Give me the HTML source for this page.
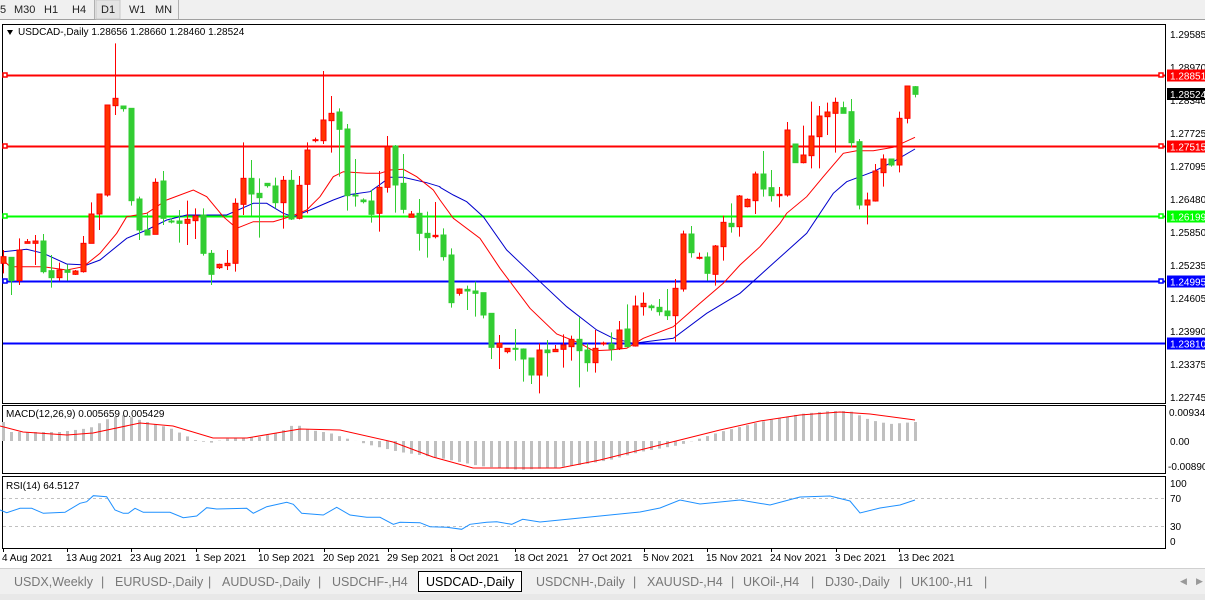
<!DOCTYPE html>
<html><head><meta charset="utf-8">
<style>
body{margin:0;width:1205px;height:600px;overflow:hidden;background:#fff;font-family:"Liberation Sans",Tahoma,sans-serif;}
svg{display:block}
</style></head><body>
<svg id="s" width="1205" height="600" xmlns="http://www.w3.org/2000/svg" font-family="Liberation Sans, sans-serif" font-size="10.5">
<rect x="0" y="0" width="1205" height="19" fill="#f0f0f0"/>
<line x1="0" y1="19.5" x2="1205" y2="19.5" stroke="#a0a0a0"/>
<g font-size="11" fill="#222">
<text x="0" y="13">5</text><text x="14" y="13">M30</text><text x="44" y="13">H1</text><text x="72" y="13">H4</text>
<line x1="94.5" y1="0" x2="94.5" y2="19" stroke="#b0b0b0"/>
<rect x="96" y="0" width="24" height="19" fill="#e4e4e4" stroke="#c8c8c8"/>
<text x="101" y="13">D1</text><text x="129" y="13">W1</text><text x="155" y="13">MN</text>
<line x1="178.5" y1="0" x2="178.5" y2="19" stroke="#b0b0b0"/>
</g>
<rect x="2.5" y="24.5" width="1163" height="379" fill="#fff" stroke="#000"/>
<rect x="2.5" y="405.5" width="1163" height="68" fill="#fff" stroke="#000"/>
<rect x="2.5" y="476.5" width="1163" height="72" fill="#fff" stroke="#000"/>
<g id="main"></g>
<g id="macd"></g>
<g id="rsi"></g>
<g font-size="10" fill="#000">
<text x="1170" y="38">1.29585</text><text x="1170" y="71">1.28970</text><text x="1170" y="104">1.28340</text>
<text x="1170" y="137">1.27725</text><text x="1170" y="170">1.27095</text><text x="1170" y="203">1.26480</text>
<text x="1170" y="236">1.25850</text><text x="1170" y="269">1.25235</text><text x="1170" y="302">1.24605</text>
<text x="1170" y="335">1.23990</text><text x="1170" y="368">1.23375</text><text x="1170" y="401">1.22745</text>
<text x="1169" y="416">0.009345</text><text x="1170" y="445">0.00</text><text x="1168" y="470">-0.00890</text>
<text x="1170" y="487">100</text><text x="1170" y="502">70</text><text x="1170" y="530">30</text><text x="1170" y="545">0</text>
</g>
<g id="hl"></g>
<g font-size="10" fill="#000">
<path d="M7 30 L13 30 L10 35Z" fill="#000"/>
<text x="18" y="35">USDCAD-,Daily  1.28656 1.28660 1.28460 1.28524</text>
<text x="6" y="417">MACD(12,26,9) 0.005659 0.005429</text>
<text x="6" y="489">RSI(14) 64.5127</text>
</g>
<g id="dates" font-size="10" fill="#000"></g>
<rect x="0" y="568" width="1205" height="32" fill="#f0f0f0"/>
<line x1="0" y1="568.5" x2="1205" y2="568.5" stroke="#d0d0d0"/>
<g font-size="12.5" fill="#777">
<text x="14" y="586">USDX,Weekly</text><text x="101" y="586">|</text>
<text x="115" y="586">EURUSD-,Daily</text><text x="208" y="586">|</text>
<text x="222" y="586">AUDUSD-,Daily</text><text x="318" y="586">|</text>
<text x="332" y="586">USDCHF-,H4</text>
<rect x="418.5" y="571.5" width="103" height="20" fill="#fff" stroke="#000"/>
<text x="426" y="586" fill="#000">USDCAD-,Daily</text>
<text x="536" y="586">USDCNH-,Daily</text><text x="633" y="586">|</text>
<text x="647" y="586">XAUUSD-,H4</text><text x="731" y="586">|</text>
<text x="743" y="586">UKOil-,H4</text><text x="811" y="586">|</text>
<text x="825" y="586">DJ30-,Daily</text><text x="899" y="586">|</text>
<text x="911" y="586">UK100-,H1</text><text x="984" y="586">|</text>
<text x="1180" y="584" font-size="9" fill="#999">◀</text><text x="1196" y="584" font-size="9" fill="#999">▶</text>
</g>
<rect x="0" y="594" width="1205" height="6" fill="#e8e8e8"/>
</svg>
<script>
var NS="http://www.w3.org/2000/svg";
function el(p,t,a){var e=document.createElementNS(NS,t);for(var k in a)e.setAttribute(k,a[k]);p.appendChild(e);return e;}
var main=document.getElementById('main'),hl=document.getElementById('hl');
var A=[["r",650,670,630,700],["g",652,722,652,765],["r",630,722,595,735],["r",605,610,597,610],["r",603,610,585,675],["g",603,695,582,700],["g",692,713,645,743],["r",690,713,668,722],["g",690,697,673,722],["r",693,703,690,705],["r",610,695,588,698],["r",522,610,487,610],["r",462,522,462,570],["r",195,465,195,470],["r",175,197,10,225],["g",198,206,198,215],["g",205,482,205,497],["g",477,570,470,600],["g",570,585,520,585],["r",427,583,415,583],["g",423,535,393,555],["g",543,546,535,550],["g",543,550,510,608],["r",538,550,482,615],["r",528,542,505,597],["g",525,640,505,647],["g",640,703,630,735],["r",673,683,671,687],["r",670,677,630,690],["r",490,670,475,695],["r",415,493,307,525],["g",415,462,360,527],["g",460,473,415,593],["g",430,437,430,443],["g",438,488,413,505],["r",421,488,408,566],["g",421,537,390,540],["r",436,535,408,538],["r",330,433,307,520],["r",299,301,293,307],["r",240,302,93,312],["r",220,242,168,338],["g",216,268,205,410],["g",267,467,252,512],["g",465,467,357,500],["g",480,485,475,490],["g",483,523,450,548],["r",442,520,393,575],["r",320,442,288,458],["g",318,435,315,518],["g",430,508,342,520],["r",522,532,513,532],["g",520,580,477,632],["g",580,593,515,653],["r",586,590,486,595]];
var B=[["g",525,590,505,602],["g",585,728,565,743],["r",687,700,685,707],["g",688,693,677,750],["g",693,700,665,770],["g",698,765,698,775],["g",760,862,760,897],["r",850,862,825,927],["r",865,875,865,880],["g",865,868,807,902],["g",867,897,865,965],["g",894,945,894,972],["r",870,945,850,1000],["g",870,878,840,950],["r",868,875,855,875],["r",855,868,823,923],["r",838,860,827,902],["g",838,872,772,982],["g",870,908,850,935],["r",865,908,810,938],["r",849,851,845,857],["g",852,867,817,902],["r",810,865,783,870],["g",807,860,733,860],["r",738,858,707,860],["r",730,740,697,767],["g",738,743,733,752],["g",742,755,717,767],["g",753,767,687,780],["r",685,767,657,845],["r",522,687,512,695],["g",522,578,498,593],["r",592,595,578,598],["g",591,640,577,662],["r",558,643,555,677],["r",487,560,467,602],["g",490,500,430,518],["r",408,500,405,530],["r",418,440,415,442],["r",342,422,335,462],["g",342,387,273,410],["g",383,407,330,425],["r",403,407,381,442],["r",210,405,186,410],["g",252,308,252,308],["r",285,308,197,310],["r",228,287,125,325],["r",168,230,138,325],["r",156,170,128,225],["r",127,160,113,278],["g",143,160,125,160],["g",155,248,117,262],["g",245,435,237,448],["r",420,435,398,493],["r",333,423,312,425],["r",297,338,283,380],["g",297,315,297,320],["r",175,315,155,337],["r",78,175,78,190],["g",80,103,78,112]];
var C=[];
A.forEach(function(c){C.push([c[0],40+c[1]/3,40+c[2]/3,40+c[3]/3,40+c[4]/3]);});
B.forEach(function(c){C.push([c[0],60+c[1]/3,60+c[2]/3,60+c[3]/3,60+c[4]/3]);});
[[75.5,"#ff0000","1.28851"],[146.5,"#ff0000","1.27515"],[216.5,"#00ff00","1.26199"],[281.5,"#0000ff","1.24995"],[343.5,"#0000ff","1.23810"]].forEach(function(h,i){
 el(main,'line',{x1:3,y1:h[0],x2:1165,y2:h[0],stroke:h[1],'stroke-width':2});
 if(i<4){el(main,'rect',{x:3,y:h[0]-2.5,width:4,height:4,fill:'#fff',stroke:h[1],'stroke-width':1.5});
 el(main,'rect',{x:1159,y:h[0]-2.5,width:4,height:4,fill:'#fff',stroke:h[1],'stroke-width':1.5});}
 el(hl,'rect',{x:1167,y:h[0]-6,width:38,height:12,fill:h[1]});
 var t=el(hl,'text',{x:1170,y:h[0]+4,fill:'#fff','font-size':'10'});t.textContent=h[2];
});
el(hl,'rect',{x:1167,y:88,width:38,height:12,fill:'#000'});
var tt=el(hl,'text',{x:1170,y:98,fill:'#fff','font-size':'10'});tt.textContent="1.28524";
function poly(par,pts,ox,oy,col,w){var s=pts.map(function(p){return (p[0]/3+ox).toFixed(1)+","+(p[1]/3+oy).toFixed(1);}).join(" ");el(par,'polyline',{points:s,fill:'none',stroke:col,'stroke-width':w||1});}
var redA=[[10,660],[30,680],[130,680],[200,690],[250,680],[300,640],[350,580],[380,530],[440,520],[500,480],[580,450],[620,470],[670,530],[710,565],[760,545],[820,545],[870,530],[920,510],[960,470],[1000,410],[1030,395],[1100,400],[1140,400],[1170,390],[1210,388],[1250,410],[1300,450],[1320,480]];
var redB=[[0,420],[40,475],[120,535],[180,625],[270,745],[350,822],[420,850],[460,872],[510,870],[560,865],[610,835],[700,800],[780,730],[850,670],[900,615],[960,560],[1020,490],[1040,460],[1100,410],[1150,350],[1210,280],[1250,272],[1300,272],[1360,262],[1425,232]];
var bluA=[[10,635],[80,628],[130,640],[200,672],[260,675],[300,660],[380,595],[440,570],[500,540],[560,525],[680,525],[760,490],[800,490],[850,520],[880,530],[930,510],[1000,480],[1040,465],[1110,455],[1170,412],[1210,412],[1280,428],[1320,440]];
var bluB=[[0,382],[40,405],[80,425],[130,470],[200,570],[300,665],[380,740],[470,810],[520,835],[580,850],[700,835],[800,760],[900,700],[1000,610],[1100,520],[1180,400],[1220,365],[1300,335],[1360,305],[1425,267]];
function toB(pts){return pts.map(function(p){return [(p[0]/3-440)*3,(p[1]/3+40-60)*3];});}
poly(main,toB(bluA).concat(bluB),440,60,'#0000cc',1);
poly(main,toB(redA).concat(redB),440,60,'#ff0000',1);
C.forEach(function(c,i){var x=Math.round(3.3+8*i)+0.5;var col=c[0]=="r"?"#ff0000":"#32cd32";var fill=c[0]=="r"?"#ff3300":"#32cd32";
 el(main,'line',{x1:x,y1:c[3],x2:x,y2:c[4],stroke:col,'stroke-width':1});
 var h=Math.max(c[2]-c[1],1);
 el(main,'rect',{x:x-2.5,y:c[1],width:5,height:h,fill:fill,stroke:col,'stroke-width':1});
});
var macd=document.getElementById('macd');
var hp=[[5,432],[60,432],[90,428],[110,418],[125,415],[140,420],[170,428],[195,440],[210,443],[230,438],[260,437],[280,432],[295,424],[310,430],[330,433],[345,438],[370,445],[400,452],[440,458],[480,466],[520,470],[550,468],[580,465],[610,460],[640,452],[680,445],[720,432],[760,422],[800,414],[830,411],[850,411],[870,420],[890,424],[915,422]];
function interp(pts,x){for(var i=0;i<pts.length-1;i++){if(x>=pts[i][0]&&x<=pts[i+1][0]){var t=(x-pts[i][0])/(pts[i+1][0]-pts[i][0]);return pts[i][1]+t*(pts[i+1][1]-pts[i][1]);}}return pts[pts.length-1][1];}
for(var i=0;i<115;i++){var x=Math.round(3.3+8*i)+0.5;var y=interp(hp,x);
 el(macd,'line',{x1:x,y1:441,x2:x,y2:y,stroke:'#c0c0c0','stroke-width':3});}
var sig=[[0,426],[23,432],[67,435],[93,433],[140,423],[173,426],[213,438],[247,438],[300,429],[340,430],[393,442],[433,457],[473,468],[507,468],[560,468],[600,460],[640,450],[680,440],[720,430],[760,421],[800,415],[840,412],[870,414],[915,420]];
el(macd,'polyline',{points:sig.map(function(p){return p.join(",");}).join(" "),fill:'none',stroke:'#ff0000','stroke-width':1});
var rsi=document.getElementById('rsi');
el(rsi,'line',{x1:3,y1:498.5,x2:1165,y2:498.5,stroke:'#c0c0c0','stroke-dasharray':'3,3'});
el(rsi,'line',{x1:3,y1:526.5,x2:1165,y2:526.5,stroke:'#c0c0c0','stroke-dasharray':'3,3'});
var rz=[[0,330],[20,338],[60,325],[95,325],[130,340],[195,337],[240,310],[260,305],[280,287],[320,290],[345,330],[370,340],[385,340],[405,325],[430,337],[510,337],[550,353],[590,348],[620,323],[650,327],[740,325],[760,340],[800,320],[860,307],[880,313],[905,340],[970,345],[1010,322],[1050,345],[1100,352],[1140,352],[1180,373],[1200,367],[1260,368],[1290,380],[1340,382],[1385,388],[1410,373],[1460,367],[1490,365],[1535,373],[1568,358]];
var rp=rz.map(function(p){return [p[0]/3,p[1]/3+400];}).concat([[540,522],[560,520],[600,516],[640,512],[660,508],[680,500],[700,504],[740,500],[770,505],[800,497],[830,496],[850,501],[860,513],[880,508],[900,505],[915,500]]);
el(rsi,'polyline',{points:rp.map(function(p){return p[0].toFixed(1)+","+p[1].toFixed(1);}).join(" "),fill:'none',stroke:'#1e90ff','stroke-width':1});
var dg=document.getElementById('dates');
[[2,"4 Aug 2021"],[66,"13 Aug 2021"],[130,"23 Aug 2021"],[195,"1 Sep 2021"],[258,"10 Sep 2021"],[323,"20 Sep 2021"],[387,"29 Sep 2021"],[450,"8 Oct 2021"],[514,"18 Oct 2021"],[578,"27 Oct 2021"],[643,"5 Nov 2021"],[706,"15 Nov 2021"],[770,"24 Nov 2021"],[835,"3 Dec 2021"],[898,"13 Dec 2021"]].forEach(function(d){
 el(dg,'line',{x1:d[0]+1.5,y1:548,x2:d[0]+1.5,y2:552,stroke:'#000'});
 var t=el(dg,'text',{x:d[0],y:561});t.textContent=d[1];});
</script>
</body></html>
